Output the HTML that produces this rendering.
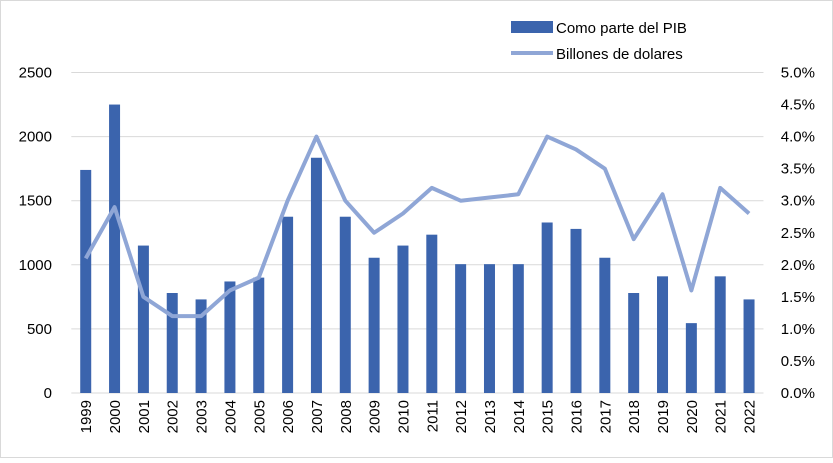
<!DOCTYPE html>
<html><head><meta charset="utf-8"><style>
body{margin:0;background:#fff;font-family:"Liberation Sans",Arial,sans-serif;}
svg text{font-family:"Liberation Sans",Arial,sans-serif;fill:#000;}
</style></head><body>
<svg id="chart" width="833" height="458" xmlns="http://www.w3.org/2000/svg">
<rect x="0.5" y="0.5" width="832" height="457" fill="#fff" stroke="#d9d9d9"/>
<g id="grid"></g><g id="bars"></g><g id="line"></g><g id="axes"></g>
<g>
<rect x="511" y="21" width="42" height="12" fill="#3b64ad"/>
<text x="556" y="33" font-size="15">Como parte del PIB</text>
<line x1="511" y1="53" x2="553" y2="53" stroke="#8fa6d6" stroke-width="4"/>
<text x="556" y="59" font-size="15">Billones de dolares</text>
</g>
</svg>
<script>
const years=["1999","2000","2001","2002","2003","2004","2005","2006","2007","2008","2009","2010","2011","2012","2013","2014","2015","2016","2017","2018","2019","2020","2021","2022"];
const barValues=[1740,2250,1150,780,730,870,900,1375,1835,1375,1055,1150,1235,1005,1005,1005,1330,1280,1055,780,910,545,910,730];
const lineValues=[2.1,2.9,1.5,1.2,1.2,1.6,1.8,3.0,4.0,3.0,2.5,2.8,3.2,3.0,3.05,3.1,4.0,3.8,3.5,2.4,3.1,1.6,3.2,2.8];
const leftTicks=[0,500,1000,1500,2000,2500];
const rightTicks=[0,0.5,1,1.5,2,2.5,3,3.5,4,4.5,5];
const NS="http://www.w3.org/2000/svg";
const x0=71.3,step=28.84,yTop=72.5,yBot=393;
const xc=i=>x0+step*(i+0.5);
const yL=v=>yBot-(v/2500)*(yBot-yTop);
const yR=v=>yBot-(v/5)*(yBot-yTop);
function mk(tag,attrs,parent){const e=document.createElementNS(NS,tag);for(const k in attrs)e.setAttribute(k,attrs[k]);document.getElementById(parent).appendChild(e);return e;}
leftTicks.forEach(t=>{
 const l=mk('line',{x1:x0,x2:x0+step*years.length,y1:yL(t),y2:yL(t),stroke:'#d9d9d9','stroke-width':1},'grid');
 
 
 const tx=mk('text',{x:52,y:yL(t)+5,'text-anchor':'end','font-size':15},'axes');tx.textContent=t;
 
 
});
rightTicks.forEach(t=>{
 const tx=mk('text',{x:815,y:yR(t)+5,'text-anchor':'end','font-size':15},'axes');tx.textContent=t.toFixed(1)+'%';
 
 
});
barValues.forEach((v,i)=>{
 const r=mk('rect',{x:xc(i)-5.5,y:yL(v),width:11,height:yBot-yL(v),fill:'#3b64ad'},'bars');
 
 
 const tx=mk('text',{transform:`translate(${xc(i)+5.5},400) rotate(-90)`,'text-anchor':'end','font-size':15},'axes');tx.textContent=years[i];
 
 
});
const p=mk('polyline',{points:lineValues.map((v,i)=>xc(i)+','+yR(v)).join(' '),fill:'none',stroke:'#8fa6d6','stroke-width':4,'stroke-linejoin':'round'},'line');


</script>
</body></html>
